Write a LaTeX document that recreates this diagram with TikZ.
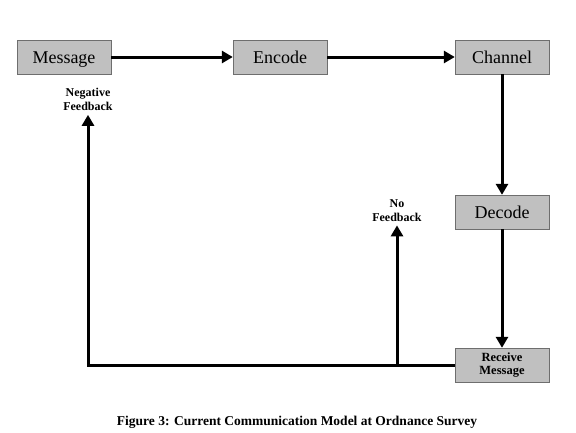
\documentclass[tikz,border=0pt]{standalone}
\usepackage{fontspec}
\setmainfont{Liberation Serif}
\usetikzlibrary{arrows.meta,positioning}
\definecolor{boxgray}{RGB}{192,192,192}
\definecolor{edgegray}{RGB}{110,110,110}

\begin{document}
\begin{tikzpicture}[
  x=1pt, y=-1pt,
  every node/.style={text centered},
  stage/.style={rectangle, minimum width=94pt, minimum height=34pt, draw=edgegray, thin, fill=boxgray, font=\fontsize{18}{20}\selectfont, inner sep=0pt, text height=12pt, text depth=0pt},
  label_style/.style={font=\fontsize{12}{14}\selectfont\bfseries, align=center, inner sep=1pt},
  arrow/.style={-{Triangle[length=11pt,width=12pt]}, line width=3pt, black}
]
\useasboundingbox (0,0) rectangle (576,432);

% Top row
\node[stage] (msg) at (64,57) {Message};
\node[stage] (enc) at (280,57) {Encode};
\node[stage] (chan) at (502,57) {Channel};

% Right column
\node[stage] (dec) at (502,212) {Decode};
\node[stage, font=\fontsize{12.5}{12.5}\selectfont\bfseries, align=center, text height=, text depth=] (recv) at (502,365) {Receive\\Message};

% Feedback labels
\node[label_style, anchor=north] (negfb) at (88,87) {Negative\\Feedback};
\node[label_style, anchor=north] (nofb) at (397,198) {No\\Feedback};
\coordinate (split) at (397,365);

% Forward path
\draw[arrow] (msg) -- (enc);
\draw[arrow] (enc) -- (chan);
\draw[arrow] (chan) -- (dec);
\draw[arrow] (dec) -- (recv);

% Return path
\draw[arrow] (recv.west) -| ([yshift=-3pt]negfb.south);
\draw[arrow] (split) -- ([yshift=-3pt]nofb.south);

% Caption
\node[font=\fontsize{13.5}{15}\selectfont\bfseries] (caption) at (297,422) {Figure 3: Current Communication Model at Ordnance Survey};

\end{tikzpicture}
\end{document}
